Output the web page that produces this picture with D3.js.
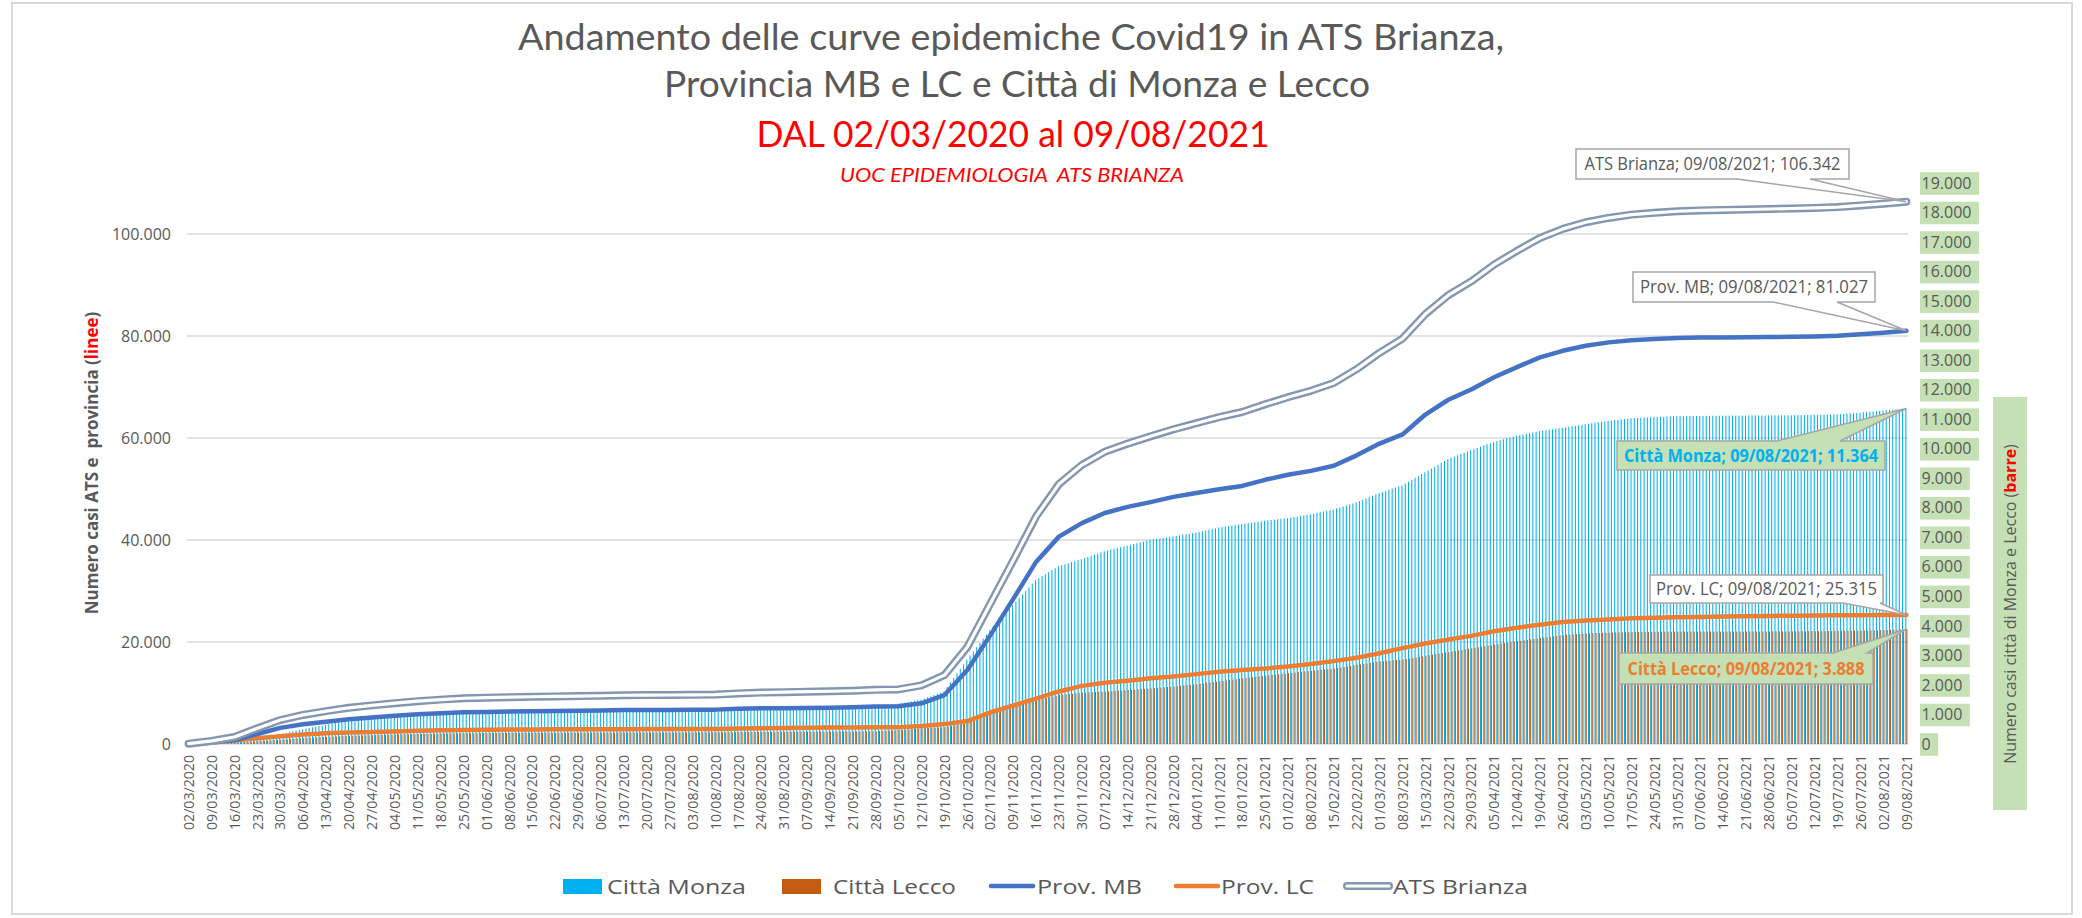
<!DOCTYPE html>
<html>
<head>
<meta charset="utf-8">
<script src="https://cdn.jsdelivr.net/npm/d3@7"></script>
<style>
  body { margin: 0; background: #fff; }
  svg { display: block; font-family: "Open Sans", sans-serif; }
</style>
</head>
<body>
<svg id="chart" width="2082" height="918"></svg>
<script>
// Categories: one per day, 02/03/2020 -> 09/08/2021 (526 days)
const fmtDate = d3.timeFormat('%d/%m/%Y');
const days = d3.timeDay.range(new Date(2020, 2, 2), new Date(2021, 7, 10)).map(fmtDate);
const tickLabels = days.filter((d, i) => i % 7 === 0);

const leftTicks = [0, 20000, 40000, 60000, 80000, 100000];
const rightTicks = [0, 1000, 2000, 3000, 4000, 5000, 6000, 7000, 8000, 9000,
  10000, 11000, 12000, 13000, 14000, 15000, 16000, 17000, 18000, 19000];

// Lines (left axis), read on every 7th day (one per tick label)
const provMB = [30, 350, 720, 1960, 3160, 3860, 4360, 4860, 5210, 5530,
  5810, 6010, 6220, 6280, 6350, 6410, 6460, 6510, 6570, 6650,
  6670, 6680, 6700, 6740, 6900, 6990, 7020, 7070, 7120, 7190,
  7350, 7400, 7980, 9600, 14500, 21300, 28410, 35700, 40660, 43300,
  45300, 46500, 47430, 48450, 49200, 49950, 50600, 51800, 52800, 53550,
  54550, 56600, 58900, 60700, 64600, 67500, 69500, 71900, 73900, 75800,
  77100, 78100, 78750, 79150, 79390, 79620, 79700, 79720, 79740, 79780,
  79830, 79920, 80050, 80340, 80660, 81027];
const provLC = [30, 250, 660, 1140, 1540, 1840, 2090, 2240, 2360, 2470,
  2590, 2690, 2750, 2800, 2830, 2850, 2870, 2880, 2890, 2910,
  2920, 2930, 2940, 2960, 3020, 3090, 3150, 3190, 3220, 3250,
  3270, 3300, 3520, 3900, 4500, 6200, 7550, 8900, 10300, 11400,
  12000, 12400, 12900, 13250, 13700, 14150, 14500, 14800, 15200, 15700,
  16250, 16900, 17800, 18800, 19700, 20500, 21200, 22100, 22800, 23400,
  23900, 24200, 24400, 24650, 24760, 24840, 24920, 25000, 25060, 25120,
  25170, 25200, 25230, 25260, 25290, 25315];
const atsBrianza = [60, 600, 1380, 3100, 4700, 5700, 6450, 7100, 7570, 8000,
  8400, 8700, 8970, 9080, 9180, 9260, 9330, 9390, 9460, 9560,
  9590, 9610, 9640, 9700, 9920, 10080, 10170, 10260, 10340, 10440,
  10620, 10700, 11500, 13500, 19000, 27500, 35960, 44600, 50960, 54700,
  57300, 58900, 60330, 61700, 62900, 64100, 65100, 66600, 68000, 69250,
  70800, 73500, 76700, 79500, 84300, 88000, 90700, 94000, 96700, 99200,
  101000, 102300, 103150, 103800, 104150, 104460, 104620, 104720, 104800, 104900,
  105000, 105120, 105280, 105600, 105950, 106342];

// Bars (right axis), daily cumulative cases, one row per week
const cittaMonza = [
  10, 14, 18, 22, 27, 32, 36,
  40, 48, 56, 64, 72, 80, 88,
  95, 110, 125, 140, 155, 170, 185,
  200, 219, 237, 256, 274, 293, 311,
  330, 354, 379, 403, 427, 451, 476,
  500, 521, 543, 564, 586, 607, 629,
  650, 670, 690, 710, 730, 750, 770,
  790, 804, 817, 831, 844, 858, 871,
  885, 896, 906, 917, 928, 939, 949,
  960, 971, 981, 992, 1003, 1014, 1024,
  1035, 1041, 1047, 1053, 1060, 1066, 1072,
  1078, 1081, 1084, 1087, 1089, 1092, 1095,
  1098, 1101, 1104, 1107, 1109, 1112, 1115,
  1118, 1119, 1120, 1121, 1122, 1123, 1124,
  1125, 1126, 1127, 1128, 1129, 1130, 1131,
  1132, 1133, 1134, 1135, 1136, 1136, 1137,
  1138, 1139, 1140, 1141, 1142, 1143, 1144,
  1145, 1146, 1146, 1147, 1148, 1149, 1149,
  1150, 1150, 1151, 1151, 1151, 1152, 1152,
  1152, 1152, 1152, 1152, 1152, 1152, 1152,
  1152, 1152, 1152, 1153, 1153, 1153, 1153,
  1153, 1153, 1154, 1154, 1154, 1155, 1155,
  1155, 1156, 1158, 1159, 1161, 1162, 1164,
  1165, 1168, 1170, 1173, 1175, 1178, 1180,
  1183, 1186, 1189, 1192, 1196, 1199, 1202,
  1205, 1208, 1211, 1214, 1216, 1219, 1222,
  1225, 1227, 1229, 1231, 1234, 1236, 1238,
  1240, 1242, 1244, 1246, 1249, 1251, 1253,
  1255, 1257, 1259, 1261, 1262, 1264, 1266,
  1268, 1274, 1280, 1286, 1292, 1298, 1304,
  1310, 1318, 1326, 1334, 1341, 1349, 1357,
  1365, 1384, 1404, 1423, 1442, 1461, 1481,
  1500, 1540, 1580, 1620, 1660, 1700, 1740,
  1780, 1933, 2086, 2239, 2391, 2544, 2697,
  2850, 2993, 3136, 3279, 3421, 3564, 3707,
  3850, 3971, 4093, 4214, 4336, 4457, 4579,
  4700, 4821, 4943, 5064, 5186, 5307, 5429,
  5550, 5617, 5684, 5751, 5819, 5886, 5953,
  6020, 6054, 6089, 6123, 6157, 6191, 6226,
  6260, 6299, 6337, 6376, 6414, 6453, 6491,
  6530, 6557, 6584, 6611, 6639, 6666, 6693,
  6720, 6747, 6774, 6801, 6829, 6856, 6883,
  6910, 6927, 6944, 6961, 6979, 6996, 7013,
  7030, 7049, 7067, 7086, 7104, 7123, 7141,
  7160, 7184, 7209, 7233, 7257, 7281, 7306,
  7330, 7347, 7364, 7381, 7399, 7416, 7433,
  7450, 7466, 7481, 7497, 7513, 7529, 7544,
  7560, 7573, 7586, 7599, 7611, 7624, 7637,
  7650, 7669, 7687, 7706, 7724, 7743, 7761,
  7780, 7803, 7826, 7849, 7871, 7894, 7917,
  7940, 7974, 8009, 8043, 8077, 8111, 8146,
  8180, 8226, 8271, 8317, 8363, 8409, 8454,
  8500, 8537, 8574, 8611, 8649, 8686, 8723,
  8760, 8823, 8886, 8949, 9011, 9074, 9137,
  9200, 9264, 9329, 9393, 9457, 9521, 9586,
  9650, 9693, 9736, 9779, 9821, 9864, 9907,
  9950, 9990, 10030, 10070, 10110, 10150, 10190,
  10230, 10260, 10290, 10320, 10350, 10380, 10410,
  10440, 10463, 10486, 10509, 10531, 10554, 10577,
  10600, 10616, 10631, 10647, 10663, 10679, 10694,
  10710, 10727, 10744, 10761, 10779, 10796, 10813,
  10830, 10846, 10863, 10879, 10896, 10912, 10929,
  10945, 10957, 10969, 10981, 10994, 11006, 11018,
  11030, 11036, 11043, 11049, 11056, 11062, 11069,
  11075, 11079, 11082, 11086, 11089, 11093, 11096,
  11100, 11101, 11103, 11104, 11106, 11107, 11109,
  11110, 11111, 11113, 11114, 11116, 11117, 11119,
  11120, 11121, 11121, 11122, 11123, 11124, 11124,
  11125, 11126, 11126, 11127, 11128, 11129, 11129,
  11130, 11130, 11131, 11131, 11132, 11132, 11133,
  11133, 11135, 11136, 11138, 11140, 11142, 11143,
  11145, 11148, 11151, 11154, 11156, 11159, 11162,
  11165, 11174, 11182, 11191, 11199, 11208, 11216,
  11225, 11235, 11245, 11255, 11265, 11275, 11285,
  11295, 11305, 11315, 11325, 11334, 11344, 11354,
  11364];
const cittaLecco = [
  5, 7, 9, 11, 14, 16, 18,
  20, 24, 29, 33, 37, 41, 46,
  50, 57, 64, 71, 79, 86, 93,
  100, 106, 111, 117, 123, 129, 134,
  140, 149, 157, 166, 174, 183, 191,
  200, 206, 211, 217, 223, 229, 234,
  240, 245, 250, 255, 260, 265, 270,
  275, 279, 282, 286, 289, 293, 296,
  300, 303, 306, 309, 311, 314, 317,
  320, 323, 326, 329, 331, 334, 337,
  340, 342, 344, 346, 349, 351, 353,
  355, 356, 358, 359, 361, 362, 364,
  365, 366, 367, 368, 369, 370, 371,
  372, 373, 373, 374, 374, 375, 375,
  376, 377, 377, 378, 378, 379, 379,
  380, 380, 381, 381, 382, 382, 383,
  383, 383, 384, 384, 384, 385, 385,
  385, 385, 386, 386, 386, 387, 387,
  387, 387, 388, 388, 388, 389, 389,
  389, 389, 390, 390, 390, 391, 391,
  391, 391, 391, 392, 392, 392, 392,
  392, 392, 392, 393, 393, 393, 393,
  393, 393, 394, 394, 395, 395, 396,
  396, 397, 398, 399, 399, 400, 401,
  402, 403, 404, 405, 407, 408, 409,
  410, 411, 411, 412, 413, 414, 414,
  415, 415, 416, 416, 417, 417, 418,
  418, 418, 419, 419, 420, 420, 421,
  421, 422, 422, 423, 423, 424, 424,
  425, 426, 426, 427, 428, 429, 429,
  430, 436, 441, 447, 453, 459, 464,
  470, 479, 487, 496, 504, 513, 521,
  530, 536, 541, 547, 553, 559, 564,
  570, 591, 613, 634, 656, 677, 699,
  720, 761, 803, 844, 886, 927, 969,
  1010, 1046, 1081, 1117, 1153, 1189, 1224,
  1260, 1291, 1323, 1354, 1386, 1417, 1449,
  1480, 1506, 1531, 1557, 1583, 1609, 1634,
  1660, 1671, 1683, 1694, 1706, 1717, 1729,
  1740, 1746, 1751, 1757, 1763, 1769, 1774,
  1780, 1787, 1794, 1801, 1809, 1816, 1823,
  1830, 1838, 1845, 1853, 1860, 1868, 1875,
  1883, 1893, 1902, 1912, 1921, 1931, 1940,
  1950, 1961, 1973, 1984, 1996, 2007, 2019,
  2030, 2044, 2057, 2071, 2084, 2098, 2111,
  2125, 2139, 2154, 2168, 2182, 2196, 2211,
  2225, 2239, 2252, 2266, 2279, 2293, 2306,
  2320, 2331, 2343, 2354, 2366, 2377, 2389,
  2400, 2411, 2423, 2434, 2446, 2457, 2469,
  2480, 2491, 2503, 2514, 2526, 2537, 2549,
  2560, 2577, 2594, 2611, 2629, 2646, 2663,
  2680, 2697, 2714, 2731, 2749, 2766, 2783,
  2800, 2809, 2817, 2826, 2834, 2843, 2851,
  2860, 2879, 2897, 2916, 2934, 2953, 2971,
  2990, 3009, 3027, 3046, 3064, 3083, 3101,
  3120, 3137, 3154, 3171, 3189, 3206, 3223,
  3240, 3259, 3277, 3296, 3314, 3333, 3351,
  3370, 3386, 3401, 3417, 3433, 3449, 3464,
  3480, 3496, 3511, 3527, 3543, 3559, 3574,
  3590, 3604, 3619, 3633, 3647, 3661, 3676,
  3690, 3698, 3706, 3714, 3721, 3729, 3737,
  3745, 3749, 3754, 3758, 3762, 3766, 3771,
  3775, 3777, 3780, 3782, 3785, 3787, 3790,
  3792, 3793, 3795, 3796, 3798, 3799, 3801,
  3802, 3803, 3803, 3804, 3804, 3805, 3805,
  3806, 3806, 3806, 3806, 3807, 3807, 3807,
  3807, 3807, 3807, 3807, 3807, 3807, 3807,
  3807, 3807, 3807, 3808, 3808, 3808, 3808,
  3808, 3809, 3809, 3810, 3810, 3811, 3811,
  3812, 3813, 3813, 3814, 3814, 3815, 3815,
  3816, 3817, 3817, 3818, 3818, 3819, 3819,
  3820, 3821, 3822, 3823, 3825, 3826, 3827,
  3828, 3830, 3831, 3833, 3835, 3837, 3838,
  3840, 3843, 3846, 3849, 3851, 3854, 3857,
  3860, 3864, 3868, 3872, 3876, 3880, 3884,
  3888];

const GREY_TEXT = '#595959';
const GREEN_BOX = '#c5e0b4';
const COLORS = { monza: '#00b0f0', lecco: '#c55a11', mb: '#4472c4', lc: '#ed7d31', ats: '#8497b0' };

const svg = d3.select('#chart');
const plot = { left: 187, right: 1908, top: 183, bottom: 744 };

// Chart frame
svg.append('rect')
  .attr('x', 12).attr('y', 3).attr('width', 2060).attr('height', 911)
  .attr('fill', '#fff').attr('stroke', '#d9d9d9').attr('stroke-width', 2);

const x = d3.scaleBand().domain(days).range([plot.left, plot.right]);
const bw = x.bandwidth();
const cx = d => x(d) + bw / 2;
const yL = d3.scaleLinear().domain([0, 110000]).range([plot.bottom, plot.top]);
const yR = d3.scaleLinear().domain([0, 19000]).range([plot.bottom, plot.top]);
const itLocale = d3.formatLocale({ decimal: ',', thousands: '.', grouping: [3], currency: ['€', ''] });
const fmtNum = itLocale.format(',d');

// Titles (Lato keeps the line boxes from overlapping at this size)
const titles = [
  { t: 'Andamento delle curve epidemiche Covid19 in ATS Brianza,', x: 1011, y: 50, size: 37, len: 986, fill: GREY_TEXT },
  { t: 'Provincia MB e LC e Città di Monza e Lecco', x: 1017, y: 96.5, size: 37, len: 706, fill: GREY_TEXT },
  { t: 'DAL 02/03/2020 al 09/08/2021', x: 1013, y: 146.5, size: 37, len: 513, fill: '#ff0000' },
  { t: 'UOC EPIDEMIOLOGIA  ATS BRIANZA', x: 1012, y: 182, size: 19.5, len: 344, fill: '#ff0000', italic: true },
];
svg.append('g').attr('font-family', 'Lato, "Open Sans", sans-serif')
  .selectAll('text').data(titles).join('text')
  .attr('x', d => d.x).attr('y', d => d.y)
  .attr('text-anchor', 'middle')
  .attr('font-size', d => d.size)
  .attr('font-style', d => d.italic ? 'italic' : 'normal')
  .attr('fill', d => d.fill)
  .attr('textLength', d => d.len)
  .attr('lengthAdjust', 'spacingAndGlyphs')
  .style('white-space', 'pre')
  .text(d => d.t);

// Gridlines
svg.append('g').selectAll('line').data(leftTicks).join('line')
  .attr('x1', plot.left).attr('x2', plot.right)
  .attr('y1', d => yL(d)).attr('y2', d => yL(d))
  .attr('stroke', '#d9d9d9').attr('stroke-width', 1.3);

// Bars: Città Monza and Città Lecco side by side in each day
svg.append('g').selectAll('rect').data(cittaMonza).join('rect')
  .attr('x', (d, i) => x(days[i]) + bw * 0.18)
  .attr('width', bw * 0.32)
  .attr('y', d => yR(d))
  .attr('height', d => yR(0) - yR(d))
  .attr('fill', COLORS.monza);
svg.append('g').selectAll('rect').data(cittaLecco).join('rect')
  .attr('x', (d, i) => x(days[i]) + bw * 0.5)
  .attr('width', bw * 0.32)
  .attr('y', d => yR(d))
  .attr('height', d => yR(0) - yR(d))
  .attr('fill', COLORS.lecco);

// Lines
const weekLine = d3.line()
  .x((d, i) => cx(days[i * 7]))
  .y(d => yL(d));
const lines = svg.append('g').attr('fill', 'none')
  .attr('stroke-linejoin', 'round').attr('stroke-linecap', 'round');
lines.append('path').attr('d', weekLine(provLC)).attr('stroke', COLORS.lc).attr('stroke-width', 4.5);
lines.append('path').attr('d', weekLine(provMB)).attr('stroke', COLORS.mb).attr('stroke-width', 4.5);
lines.append('path').attr('d', weekLine(atsBrianza)).attr('stroke', COLORS.ats).attr('stroke-width', 8);
lines.append('path').attr('d', weekLine(atsBrianza)).attr('stroke', '#fff').attr('stroke-width', 3.2);

// Left axis
const yAxisL = svg.append('g')
  .attr('transform', `translate(${plot.left},0)`)
  .call(d3.axisLeft(yL).tickValues(leftTicks).tickFormat(fmtNum).tickSize(0).tickPadding(16));
yAxisL.select('.domain').remove();
yAxisL.attr('font-size', 16).attr('font-family', '"Open Sans", sans-serif').attr('color', GREY_TEXT);

// Right axis with green label boxes
const yAxisR = svg.append('g')
  .attr('transform', 'translate(1920,0)')
  .call(d3.axisRight(yR).tickValues(rightTicks).tickFormat(fmtNum).tickSize(0).tickPadding(1.5));
yAxisR.select('.domain').remove();
yAxisR.attr('font-size', 16).attr('font-family', '"Open Sans", sans-serif').attr('color', GREY_TEXT);
yAxisR.selectAll('.tick').each(function () {
  const tick = d3.select(this);
  const w = tick.select('text').node().getComputedTextLength();
  tick.insert('rect', 'text')
    .attr('x', 0).attr('y', -11.3).attr('width', w + 9).attr('height', 22.6)
    .attr('fill', GREEN_BOX);
});

// X axis (every 7th day)
const xAxis = svg.append('g')
  .attr('transform', `translate(0,${plot.bottom})`)
  .call(d3.axisBottom(x).tickValues(tickLabels).tickSize(0));
xAxis.select('.domain').remove();
xAxis.attr('font-size', 15).attr('font-family', '"Open Sans", sans-serif').attr('color', GREY_TEXT);
xAxis.selectAll('text')
  .attr('transform', 'rotate(-90)')
  .attr('x', -11).attr('y', 0).attr('dy', '0.35em')
  .attr('text-anchor', 'end')
  .attr('textLength', 75).attr('lengthAdjust', 'spacingAndGlyphs');

// Axis titles
const titleL = svg.append('text')
  .attr('transform', 'translate(92,463) rotate(-90)')
  .attr('text-anchor', 'middle').attr('font-size', 17).attr('font-weight', 'bold')
  .attr('dy', '0.35em')
  .attr('fill', GREY_TEXT);
titleL.append('tspan').text('Numero casi ATS e  provincia (');
titleL.append('tspan').attr('fill', '#ff0000').text('linee');
titleL.append('tspan').text(')');
titleL.style('white-space', 'pre');

svg.append('rect').attr('x', 1993).attr('y', 397).attr('width', 34).attr('height', 413).attr('fill', GREEN_BOX);
const titleR = svg.append('text')
  .attr('transform', 'translate(2010,604) rotate(-90)')
  .attr('text-anchor', 'middle').attr('font-size', 16).attr('dy', '0.35em')
  .attr('fill', GREY_TEXT);
titleR.append('tspan').text('Numero casi città di Monza e Lecco (');
titleR.append('tspan').attr('fill', '#ff0000').attr('font-weight', 'bold').text('barre');
titleR.append('tspan').text(')');

// Data callouts on the last day
const last = days[days.length - 1];
const callouts = [
  { box: [1576, 149, 1849, 179], side: 'bottom', base: [1737, 1810], tip: [cx(last), yL(atsBrianza[atsBrianza.length - 1])],
    fill: '#fff', color: GREY_TEXT, bold: false, len: 256,
    text: `ATS Brianza; ${last}; ${fmtNum(atsBrianza[atsBrianza.length - 1])}` },
  { box: [1633, 272, 1875, 302], side: 'bottom', base: [1773, 1837], tip: [cx(last), yL(provMB[provMB.length - 1])],
    fill: '#fff', color: GREY_TEXT, bold: false, len: 228,
    text: `Prov. MB; ${last}; ${fmtNum(provMB[provMB.length - 1])}` },
  { box: [1617, 441, 1885, 470], side: 'top', base: [1777, 1840], tip: [cx(last), yR(cittaMonza[cittaMonza.length - 1])],
    fill: GREEN_BOX, color: COLORS.monza, bold: true, len: 254,
    text: `Città Monza; ${last}; ${fmtNum(cittaMonza[cittaMonza.length - 1])}` },
  { box: [1650, 575, 1883, 603], side: 'bottom', base: [1843, 1880], tip: [cx(last), yL(provLC[provLC.length - 1])],
    fill: '#fff', color: GREY_TEXT, bold: false, len: 221,
    text: `Prov. LC; ${last}; ${fmtNum(provLC[provLC.length - 1])}` },
  { box: [1619, 653, 1873, 684], side: 'top', base: [1833, 1867], tip: [cx(last), yR(cittaLecco[cittaLecco.length - 1])],
    fill: GREEN_BOX, color: COLORS.lc, bold: true, len: 237,
    text: `Città Lecco; ${last}; ${fmtNum(cittaLecco[cittaLecco.length - 1])}` },
];
const calloutPath = c => {
  const [x0, y0, x1, y1] = c.box;
  const [b0, b1] = c.base;
  const [tx, ty] = c.tip;
  if (c.side === 'bottom') {
    return `M${x0},${y0}H${x1}V${y1}H${b1}L${tx},${ty}L${b0},${y1}H${x0}Z`;
  }
  return `M${x0},${y0}H${b0}L${tx},${ty}L${b1},${y0}H${x1}V${y1}H${x0}Z`;
};
const cg = svg.append('g').selectAll('g').data(callouts).join('g');
cg.append('path')
  .attr('d', calloutPath)
  .attr('fill', d => d.fill)
  .attr('stroke', '#a6a6a6').attr('stroke-width', 1.5);
cg.append('text')
  .attr('x', d => (d.box[0] + d.box[2]) / 2)
  .attr('y', d => (d.box[1] + d.box[3]) / 2)
  .attr('dy', '0.36em')
  .attr('text-anchor', 'middle')
  .attr('font-size', 18)
  .attr('font-weight', d => d.bold ? 'bold' : 'normal')
  .attr('fill', d => d.color)
  .attr('textLength', d => d.len).attr('lengthAdjust', 'spacingAndGlyphs')
  .text(d => d.text);

// Legend
const legendItems = [
  { name: 'Città Monza', kind: 'box', color: COLORS.monza, mx: 563, tx: 607, len: 139 },
  { name: 'Città Lecco', kind: 'box', color: COLORS.lecco, mx: 782, tx: 833, len: 123 },
  { name: 'Prov. MB', kind: 'line', color: COLORS.mb, mx: 991, tx: 1037, len: 105 },
  { name: 'Prov. LC', kind: 'line', color: COLORS.lc, mx: 1176, tx: 1221, len: 93 },
  { name: 'ATS Brianza', kind: 'double', color: COLORS.ats, mx: 1347, tx: 1393, len: 135 },
];
const lg = svg.append('g').selectAll('g').data(legendItems).join('g');
lg.filter(d => d.kind === 'box').append('rect')
  .attr('x', d => d.mx).attr('y', 879).attr('width', 39).attr('height', 15)
  .attr('fill', d => d.color);
lg.filter(d => d.kind !== 'box').append('line')
  .attr('x1', d => d.mx).attr('x2', d => d.mx + 42).attr('y1', 886).attr('y2', 886)
  .attr('stroke', d => d.color).attr('stroke-width', d => d.kind === 'double' ? 8 : 4.5)
  .attr('stroke-linecap', 'round');
lg.filter(d => d.kind === 'double').append('line')
  .attr('x1', d => d.mx).attr('x2', d => d.mx + 42).attr('y1', 886).attr('y2', 886)
  .attr('stroke', '#fff').attr('stroke-width', 3.2).attr('stroke-linecap', 'round');
lg.append('text')
  .attr('x', d => d.tx).attr('y', 894)
  .attr('font-size', 20).attr('fill', GREY_TEXT)
  .attr('textLength', d => d.len).attr('lengthAdjust', 'spacingAndGlyphs')
  .text(d => d.name);
</script>
</body>
</html>
